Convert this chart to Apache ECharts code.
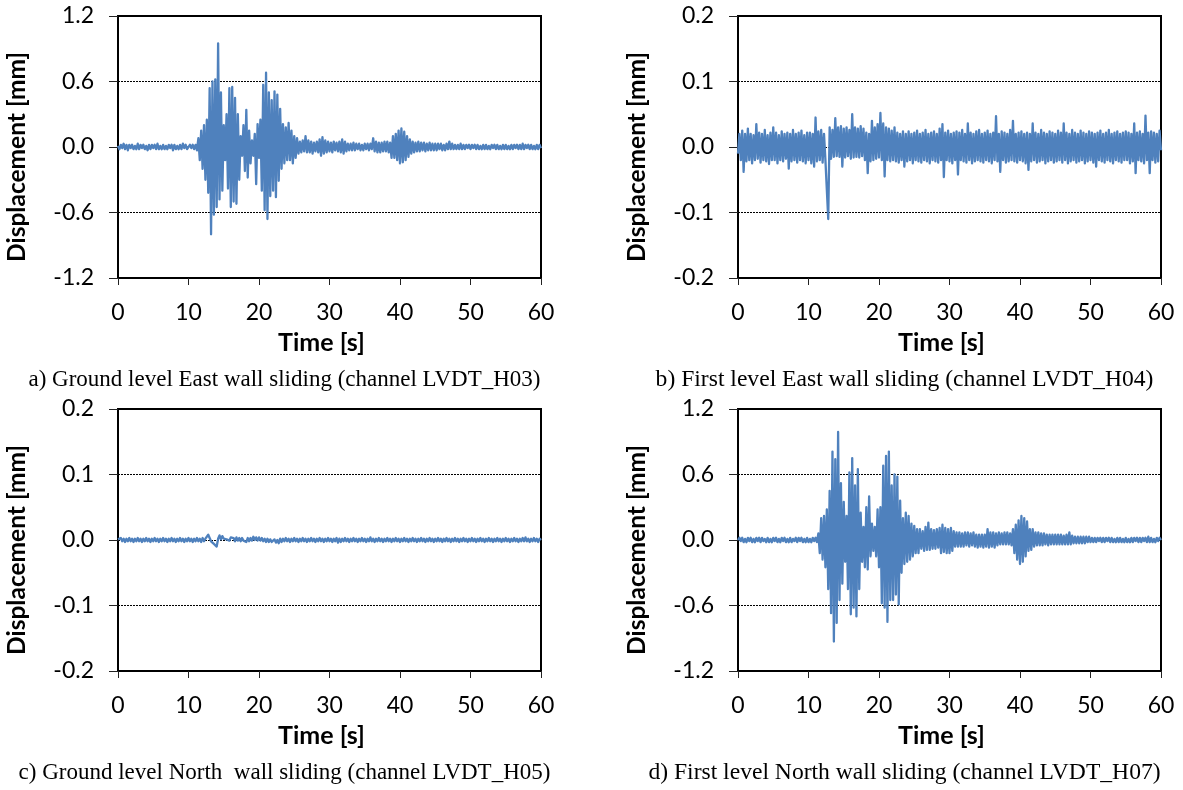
<!DOCTYPE html>
<html>
<head>
<meta charset="utf-8">
<title>Wall sliding displacement records</title>
<script src="https://cdn.jsdelivr.net/npm/echarts@6/dist/echarts.min.js"></script>
<style>
  html, body { margin: 0; padding: 0; background: #fff; }
  #chart { width: 1183px; height: 790px; }
</style>
</head>
<body>
<div id="chart"></div>
<script>
// Record length [s]; samples below are evenly spaced over it (0.2 s apart)
const DURATION = 60;
const timeTicks = [0, 10, 20, 30, 40, 50, 60];

// Displacement [mm], channel LVDT_H03 (ground level, East wall)
const lvdtH03 = [
  0.01,-0.02,0.02,-0.01,0.03, -0.02,0.02,-0.03,0.02,-0.01, 0.02,-0.02,0.01,-0.02,0.03, -0.02,0.02,-0.01,0.02,-0.02, 0.01,-0.03,0.02,-0.02,0.02,
  -0.01,0.02,-0.02,0.03,-0.02, 0.01,-0.02,0.02,-0.02,0.01, -0.02,0.02,-0.01,0.02,-0.03, 0.02,-0.02,0.01,-0.02,0.02, -0.02,0.03,-0.01,0.02,-0.02,
  -0.02,0.02,-0.01,0.02,-0.02, 0.02,-0.03,0.08,-0.12,0.15, -0.2,0.2,-0.3,0.25,-0.42, 0.54,-0.8,0.6,-0.62,0.62, -0.55,0.95,-0.48,0.5,-0.4,
  0.2,-0.12,0.3,-0.38,0.54, -0.55,0.55,-0.5,0.45,-0.52, 0.3,-0.3,0.1,-0.08,0.2, -0.22,0.34,-0.28,0.15,-0.15, 0.06,-0.08,0.12,-0.34,0.21,
  -0.1,0.25,-0.4,0.57,-0.58, 0.68,-0.66,0.5,-0.45,0.43, -0.4,0.51,-0.46,0.48,-0.31, 0.35,-0.2,0.21,-0.15,0.18, -0.12,0.22,-0.12,0.15,-0.15,
  0.1,-0.1,0.08,-0.06,0.05, -0.05,0.06,-0.04,0.1,-0.05, 0.06,-0.05,0.05,-0.06,0.04, -0.04,0.05,-0.05,0.07,-0.08, 0.09,-0.06,0.06,-0.05,0.05,
  -0.04,0.04,-0.05,0.05,-0.03, 0.04,-0.04,0.05,-0.05,0.07, -0.06,0.05,-0.04,0.03,-0.03, 0.03,-0.03,0.04,-0.03,0.03, -0.02,0.03,-0.03,0.02,-0.03,
  0.03,-0.02,0.03,-0.03,0.03, -0.02,0.08,-0.04,0.05,-0.05, 0.04,-0.05,0.04,-0.04,0.05, -0.04,0.05,-0.05,0.04,-0.1, 0.1,-0.1,0.12,-0.12,0.15,
  -0.15,0.17,-0.14,0.14,-0.12, 0.1,-0.09,0.07,-0.06,0.05, -0.05,0.04,-0.04,0.05,-0.04, 0.04,-0.03,0.04,-0.04,0.03, -0.03,0.04,-0.03,0.03,-0.03,
  0.03,-0.03,0.03,-0.02,0.03, -0.03,0.02,-0.03,0.03,-0.02, 0.05,-0.02,0.03,-0.02,0.02, -0.02,0.02,-0.02,0.03,-0.02, 0.02,-0.02,0.02,-0.01,0.02,
  -0.02,0.02,-0.01,0.02,-0.02, 0.02,-0.02,0.01,-0.02,0.02, -0.02,0.02,-0.02,0.01,-0.02, 0.02,-0.01,0.02,-0.02,0.02, -0.02,0.01,-0.02,0.02,-0.02,
  0.02,-0.02,0.01,-0.02,0.02, -0.02,0.02,-0.01,0.02,-0.02, 0.02,-0.02,0.03,-0.02,0.02, -0.01,0.02,-0.02,0.02,-0.02, 0.01,-0.02,0.02,-0.02,0.02,
  -0.01
];

// Displacement [mm], channel LVDT_H04 (first level, East wall)
const lvdtH04 = [
  -0.01,0.02,-0.02,0.025,-0.038, 0.02,-0.022,0.028,-0.02,0.02, -0.025,0.018,-0.02,0.035,-0.018, 0.022,-0.024,0.02,-0.02,0.026, -0.022,0.018,-0.026,0.022,-0.02,
  0.03,-0.02,0.022,-0.025,0.018, -0.02,0.024,-0.022,0.02,-0.018, 0.022,-0.033,0.02,-0.022,0.026, -0.02,0.02,-0.024,0.022,-0.02, 0.025,-0.022,0.018,-0.025,0.022,
  -0.02,0.022,-0.025,0.02,-0.03, 0.045,-0.022,0.024,-0.02,0.026, -0.024,0.02,-0.02,-0.065,-0.11, 0.03,-0.018,0.026,-0.015,0.044, -0.014,0.03,-0.015,0.032,-0.03,
  0.028,-0.016,0.03,-0.014,0.026, -0.018,0.05,-0.016,0.03,-0.015, 0.028,-0.016,0.032,-0.014,0.028, -0.02,0.022,-0.04,0.02,-0.022, 0.04,-0.02,0.03,-0.018,0.035,
  -0.016,0.052,-0.02,0.036,-0.045, 0.03,-0.02,0.028,-0.022,0.025, -0.02,0.03,-0.022,0.022,-0.024, 0.02,-0.02,0.024,-0.03,0.02, -0.022,0.024,-0.02,0.02,-0.025,
  0.022,-0.02,0.025,-0.022,0.02, -0.024,0.022,-0.02,0.026,-0.022, 0.02,-0.025,0.022,-0.02,0.024, -0.022,0.02,-0.024,0.028,-0.02, 0.035,-0.046,0.022,-0.02,0.025,
  -0.022,0.02,-0.025,0.022,-0.02, 0.024,-0.042,0.022,-0.02,0.026, -0.022,0.02,-0.024,0.036,-0.02, 0.022,-0.025,0.02,-0.022,0.024, -0.02,0.026,-0.022,0.02,-0.024,
  0.022,-0.02,0.025,-0.022,0.02, -0.025,0.022,-0.02,0.047,-0.022, 0.02,-0.038,0.024,-0.02,0.022, -0.024,0.02,-0.022,0.026,-0.02, 0.04,-0.022,0.02,-0.024,0.022,
  -0.02,0.024,-0.022,0.02,-0.025, 0.022,-0.035,0.02,-0.022,0.036, -0.02,0.022,-0.024,0.02,-0.022, 0.026,-0.02,0.022,-0.025,0.02, -0.022,0.024,-0.02,0.022,-0.024,
  0.02,-0.022,0.025,-0.02,0.022, -0.024,0.036,-0.02,0.022,-0.025, 0.02,-0.022,0.026,-0.02,0.022, -0.024,0.02,-0.022,0.025,-0.02, 0.022,-0.025,0.02,-0.022,0.024,
  -0.02,0.022,-0.024,0.02,-0.03, 0.022,-0.02,0.025,-0.022,0.02, -0.024,0.022,-0.02,0.026,-0.022, 0.02,-0.025,0.022,-0.02,0.024, -0.022,0.02,-0.024,0.022,-0.02,
  0.024,-0.02,0.022,-0.025,0.02, -0.022,0.036,-0.04,0.022,-0.02, 0.024,-0.022,0.02,-0.025,0.048, -0.02,0.022,-0.04,0.024,-0.02, 0.022,-0.024,0.02,-0.022,0.025,
  -0.005
];

// Displacement [mm], channel LVDT_H05 (ground level, North wall)
const lvdtH05 = [
  0.001,-0.002,0.003,-0.002,0.002, -0.003,0.002,-0.002,0.003,-0.002, 0.002,-0.003,0.002,-0.002,0.003, -0.002,0.002,-0.003,0.002,-0.002, 0.003,-0.002,0.002,-0.003,0.002,
  -0.002,0.003,-0.002,0.002,-0.003, 0.002,-0.002,0.003,-0.002,0.002, -0.003,0.002,-0.002,0.003,-0.002, 0.002,-0.003,0.002,-0.002,0.003, -0.002,0.002,-0.003,0.002,-0.002,
  0.003,-0.002,0.002,-0.003,0.002, -0.002,0.003,-0.002,0.002,-0.003, 0.003,-0.002,0.002,0.005,0.008, 0.003,-0.002,0.001,-0.006,-0.004, -0.01,0.002,0.007,0.001,0.006,
  0.002,0.005,0.001,0.004,-0.001, 0.004,0.001,0.003,-0.002,0.004, -0.001,0.003,-0.002,0.003,-0.001, 0.002,-0.003,0.003,-0.002,0.003, -0.001,0.005,0.0,0.004,-0.001,
  0.004,-0.001,0.003,-0.002,0.002, -0.003,0.002,-0.003,0.001,-0.003, -0.005,0.001,-0.004,0.0,-0.005, 0.002,-0.003,0.002,-0.002,0.003, -0.002,0.002,-0.003,0.002,-0.002,
  0.003,-0.002,0.002,-0.003,0.002, -0.002,0.003,-0.002,0.002,-0.003, 0.002,-0.002,0.003,-0.002,0.002, -0.003,0.002,-0.002,0.003,-0.002, 0.002,-0.003,0.002,-0.002,0.003,
  -0.002,0.002,-0.003,0.002,-0.002, 0.003,-0.004,0.002,-0.003,0.002, -0.002,0.003,-0.002,0.002,-0.003, 0.002,-0.002,0.003,-0.002,0.002, -0.003,0.002,-0.002,0.003,-0.002,
  0.002,-0.003,0.002,-0.002,0.004, -0.002,0.002,-0.003,0.002,-0.002, 0.003,-0.002,0.002,-0.003,0.002, -0.002,0.003,-0.002,0.002,-0.003, 0.002,-0.002,0.003,-0.002,0.002,
  -0.003,0.002,-0.002,0.003,-0.002, 0.002,-0.003,0.002,-0.002,0.003, -0.002,0.002,-0.003,0.002,-0.002, 0.003,-0.002,0.002,-0.003,0.002, -0.002,0.003,-0.002,0.002,-0.003,
  0.002,-0.002,0.003,-0.002,0.002, -0.003,0.002,-0.002,0.003,-0.002, 0.002,-0.003,0.002,-0.002,0.003, -0.002,0.002,-0.003,0.002,-0.002, 0.003,-0.002,0.002,-0.003,0.002,
  -0.002,0.003,-0.002,0.002,-0.003, 0.002,-0.002,0.003,-0.002,0.002, -0.003,0.002,-0.002,0.003,-0.002, 0.002,-0.003,0.002,-0.002,0.003, -0.002,0.002,-0.003,0.002,-0.002,
  0.003,-0.002,0.002,-0.003,0.002, -0.002,0.003,-0.002,0.002,-0.003, 0.002,-0.002,0.003,-0.002,0.004, -0.002,0.002,-0.003,0.002,-0.002, 0.003,-0.002,0.002,-0.003,0.002,
  0.0
];

// Displacement [mm], channel LVDT_H07 (first level, North wall)
const lvdtH07 = [
  0.0,0.02,-0.01,0.02,-0.02, 0.01,-0.02,0.02,-0.01,0.02, -0.02,0.01,-0.02,0.02,-0.01, 0.02,-0.02,0.02,-0.01,0.01, -0.02,0.02,-0.02,0.01,-0.02,
  0.02,-0.01,0.02,-0.02,0.01, -0.02,0.02,-0.01,0.02,-0.02, 0.01,-0.02,0.02,-0.02,0.01, -0.01,0.02,-0.02,0.02,-0.01, 0.02,-0.02,0.01,-0.02,0.02,
  -0.02,0.01,-0.02,0.02,-0.01, 0.02,-0.02,0.06,-0.12,0.2, -0.18,0.22,-0.25,0.28,-0.45, 0.45,-0.67,0.81,-0.93,0.74, -0.76,0.99,-0.55,0.52,-0.4,
  0.35,-0.2,0.22,-0.45,0.62, -0.68,0.75,-0.62,0.5,-0.7, 0.65,-0.45,0.25,-0.2,0.12, -0.25,0.3,-0.27,0.4,-0.15, 0.15,-0.1,0.12,-0.15,0.28,
  -0.25,0.3,-0.58,0.68,-0.62, 0.77,-0.75,0.81,-0.55,0.5, -0.55,0.6,-0.5,0.58,-0.59, 0.36,-0.3,0.2,-0.22,0.25, -0.2,0.22,-0.18,0.15,-0.15,
  0.13,-0.12,0.1,-0.12,0.1, -0.08,0.08,-0.1,0.12,-0.09, 0.16,-0.09,0.1,-0.08,0.09, -0.08,0.1,-0.07,0.11,-0.12, 0.14,-0.11,0.11,-0.12,0.1,
  -0.12,0.11,-0.1,0.08,-0.06, 0.07,-0.06,0.07,-0.06,0.06, -0.06,0.07,-0.05,0.07,-0.06, 0.06,-0.05,0.07,-0.06,0.05, -0.07,0.05,-0.06,0.05,-0.07,
  0.05,-0.06,0.1,-0.07,0.07, -0.06,0.07,-0.07,0.06,-0.05, 0.07,-0.04,0.06,-0.04,0.07, -0.04,0.07,-0.04,0.06,-0.05, 0.1,-0.12,0.14,-0.18,0.18,
  -0.22,0.22,-0.2,0.2,-0.15, 0.17,-0.1,0.1,-0.09,0.1, -0.06,0.07,-0.05,0.07,-0.05, 0.06,-0.05,0.06,-0.04,0.05, -0.05,0.05,-0.04,0.05,-0.04,
  0.05,-0.04,0.05,-0.04,0.05, -0.04,0.04,-0.04,0.05,-0.04, 0.07,-0.04,0.04,-0.03,0.03, -0.03,0.03,-0.03,0.03,-0.03, 0.03,-0.03,0.03,-0.02,0.03,
  -0.02,0.02,-0.02,0.02,-0.02, 0.02,-0.01,0.02,-0.02,0.02, -0.02,0.02,-0.01,0.02,-0.02, 0.02,-0.02,0.01,-0.02,0.02, -0.02,0.02,-0.02,0.01,-0.02,
  0.02,-0.02,0.01,-0.02,0.02, -0.02,0.02,-0.01,0.02,-0.02, 0.02,-0.02,0.02,-0.01,0.02, -0.02,0.03,-0.02,0.02,-0.02, 0.01,-0.02,0.02,-0.01,0.02,
  0.0
];

// Panel setup: record, vertical range, plot rectangle, caption
const panels = [
  { values: lvdtH03, range: 1.2, step: 0.6, left: 118, top: 16, captionSize: 23,
    caption: 'a) Ground level East wall sliding (channel LVDT_H03)' },
  { values: lvdtH04, range: 0.2, step: 0.1, left: 738, top: 16, captionSize: 23.6,
    caption: 'b) First level East wall sliding (channel LVDT_H04)' },
  { values: lvdtH05, range: 0.2, step: 0.1, left: 118, top: 409, captionSize: 23,
    caption: 'c) Ground level North  wall sliding (channel LVDT_H05)' },
  { values: lvdtH07, range: 1.2, step: 0.6, left: 738, top: 409, captionSize: 23.6,
    caption: 'd) First level North wall sliding (channel LVDT_H07)' }
];

const PLOT_W = 423;
const PLOT_H = 262;
const LINE_COLOR = '#4F81BD';
const TICK_FONT = 'Lato';

function toPoints(values) {
  const dt = DURATION / (values.length - 1);
  return values.map((v, i) => [i * dt, v]);
}

const grids = [], xAxes = [], yAxes = [], series = [], graphics = [];

panels.forEach((p, k) => {
  grids.push({
    left: p.left, top: p.top, width: PLOT_W, height: PLOT_H,
    show: true, borderColor: '#000', borderWidth: 2, backgroundColor: '#fff'
  });
  xAxes.push({
    gridIndex: k, type: 'value',
    min: timeTicks[0], max: timeTicks[timeTicks.length - 1],
    interval: timeTicks[1] - timeTicks[0],
    axisLine: { show: true, onZero: false, lineStyle: { color: '#000', width: 2 } },
    axisTick: { show: true, inside: false, length: 7, lineStyle: { color: '#222', width: 1 } },
    axisLabel: { margin: 23, color: '#000', fontFamily: TICK_FONT, fontSize: 23 },
    splitLine: { show: false }
  });
  yAxes.push({
    gridIndex: k, type: 'value',
    min: -p.range, max: p.range, interval: p.step,
    axisLine: { show: true, lineStyle: { color: '#000', width: 2 } },
    axisTick: { show: true, inside: false, length: 9, lineStyle: { color: '#222', width: 1 } },
    axisLabel: {
      margin: 24, color: '#000', fontFamily: TICK_FONT, fontSize: 23,
      formatter: v => v.toFixed(1)
    },
    splitLine: { show: true, lineStyle: { type: [2, 1], color: '#000', width: 1 } }
  });
  series.push({
    type: 'line', xAxisIndex: k, yAxisIndex: k,
    data: toPoints(p.values),
    showSymbol: false, symbol: 'none',
    lineStyle: { color: LINE_COLOR, width: 2.3, join: 'round' },
    clip: true, silent: true
  });

  // axis titles and caption
  const cx = p.left + PLOT_W / 2;
  graphics.push({
    type: 'text', x: p.left - 101, y: p.top + 141, rotation: Math.PI / 2,
    style: { text: 'Displacement [mm]', fill: '#000', font: 'bold 24.5px Lato',
             textAlign: 'center', textVerticalAlign: 'middle' }
  });
  graphics.push({
    type: 'text', x: cx - 8, y: p.top + 327,
    style: { text: 'Time [s]', fill: '#000', font: 'bold 25px Lato',
             textAlign: 'center', textVerticalAlign: 'middle' }
  });
  graphics.push({
    type: 'text', x: cx - 45, y: p.top + 364,
    style: { text: p.caption, fill: '#000', font: p.captionSize + "px 'Liberation Serif'",
             textAlign: 'center', textVerticalAlign: 'middle' }
  });
});

const chart = echarts.init(document.getElementById('chart'), null, { renderer: 'canvas' });
chart.setOption({
  animation: false,
  backgroundColor: '#fff',
  grid: grids,
  xAxis: xAxes,
  yAxis: yAxes,
  series: series,
  graphic: graphics
});
</script>
</body>
</html>
